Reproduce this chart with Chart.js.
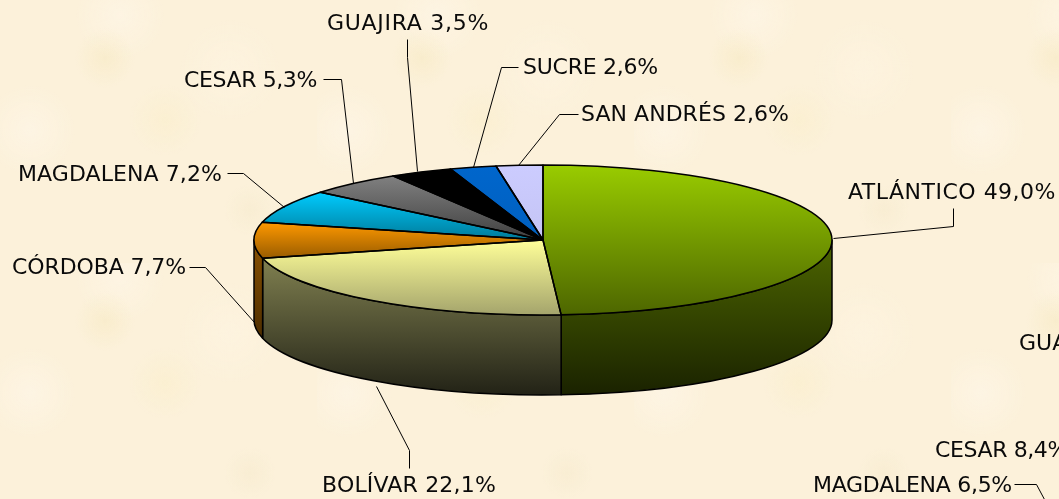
<!DOCTYPE html>
<html><head><meta charset="utf-8">
<script src="https://cdn.jsdelivr.net/npm/chart.js@4"></script>
<style>
html,body{margin:0;padding:0;width:1059px;height:499px;overflow:hidden;background-color:#fcf1da;
background-image:
radial-gradient(circle 30px at 105px 58px,rgba(244,230,185,.4),rgba(244,230,185,0)),
radial-gradient(circle 36px at 165px 120px,rgba(248,236,190,.3),rgba(248,236,190,0)),
radial-gradient(circle 26px at 250px 210px,rgba(240,228,195,.3),rgba(240,228,195,0)),
radial-gradient(circle 45px at 30px 130px,rgba(255,248,238,.45),rgba(255,248,238,0)),
radial-gradient(circle 44px at 120px 15px,rgba(255,247,234,.55),rgba(255,247,234,0)),
radial-gradient(circle 50px at 230px 70px,rgba(255,246,230,.4),rgba(255,246,230,0));
background-size:317px 263px;}
canvas{display:block}
</style></head><body>
<canvas id="c" width="1059" height="499"></canvas>
<script>
const categories=['ATLÁNTICO','BOLÍVAR','CÓRDOBA','MAGDALENA','CESAR','GUAJIRA','SUCRE','SAN ANDRÉS'];
const shares=[49.0,22.1,7.7,7.2,5.3,3.5,2.6,2.6];
const faceTop=['#99cc00','#ffff99','#ff9900','#00ccff','#808080','#000000','#0066cc','#ccccff'];
const faceBottom=['#4d6600','#a4a46c','#995c00','#007a99','#404040','#000000','#0060c0','#c4c4f4'];
const wallTop=['#4d6600','#808050','#8a5200','#006680','#404040','#000000','#003366','#666680'];
const wallBottom=['#1a2200','#222216','#2a1800','#002030','#151515','#000000','#001122','#222230'];
const labelTexts=categories.map((c,i)=>c+' '+shares[i].toFixed(1).replace('.',',')+'%');
const labelAnchors=[[848,192],[322,485],[12,267],[18,174],[184,80],[327,23],[523,67],[581,114]];
const labelWidths=[208,174,174,204,133,162,135,208];
const leaderPaths=[
 [[953,208],[953,226],[833,238]],
 [[409,468],[409,450],[376,386]],
 [[189,267],[205,267],[254,322]],
 [[227,173],[243,173],[284,207]],
 [[323,79],[341,79],[353,183]],
 [[407,39],[407,57],[417,171]],
 [[518,67],[501,67],[473,167]],
 [[578,114],[559,114],[518,165]]];
const clippedTexts=[['GUA',1019,343,0],['CESAR 8,4%',935,450,133],['MAGDALENA 6,5%',813,485,199]];
const clippedLeader=[[1014,484],[1036,484],[1044,499]];
const FONT='22px "DejaVu Sans"';
const RX=289,RY=75,DEPTH=80;

const cum=[];shares.reduce((a,v,i)=>(cum[i]=a,a+v),0);
const total=shares.reduce((a,b)=>a+b,0);
function faceFill(ctx){
  const chart=ctx.chart,ca=chart.chartArea,i=ctx.dataIndex;
  if(!ca)return faceTop[i];
  const R=Math.min(ca.width,ca.height)/2,cy=(ca.top+ca.bottom)/2;
  const s=-Math.PI/2+cum[i]/total*2*Math.PI,e=s+shares[i]/total*2*Math.PI;
  let ys=[0,Math.sin(s),Math.sin(e)];
  for(const a of [Math.PI/2,-Math.PI/2,Math.PI*1.5])if(a>=s&&a<=e)ys.push(Math.sin(a));
  const g=chart.ctx.createLinearGradient(0,cy+R*Math.min(...ys),0,cy+R*Math.max(...ys));
  g.addColorStop(0,faceTop[i]);g.addColorStop(1,faceBottom[i]);
  return g;
}
function tilt(ctx,a){
  ctx.translate(a.x,a.y);ctx.scale(RX/a.outerRadius,RY/a.outerRadius);ctx.translate(-a.x,-a.y);
}
function drawText(ctx,t,x,y,w){
  ctx.letterSpacing='0px';
  if(w){
    const m=ctx.measureText(t).width;
    ctx.letterSpacing=((w-m)/t.length).toFixed(3)+'px';
  }
  ctx.fillText(t,x,y);
}
const tiltPlugin={id:'tilt',
  beforeDatasetsDraw(chart){
    const ctx=chart.ctx,arcs=chart.getDatasetMeta(0).data;
    const a0=arcs[0],cx=a0.x,cy=a0.y;
    ctx.save();
    ctx.lineWidth=1.5;ctx.strokeStyle='#000';ctx.lineJoin='round';
    arcs.forEach((a,i)=>{
      const s=Math.max(a.startAngle,0),e=Math.min(a.endAngle,Math.PI);
      if(e<=s)return;
      const x=t=>cx+RX*Math.cos(t),y=t=>cy+RY*Math.sin(t);
      ctx.beginPath();
      ctx.moveTo(x(s),y(s));
      ctx.ellipse(cx,cy,RX,RY,0,s,e);
      ctx.lineTo(x(e),y(e)+DEPTH);
      ctx.ellipse(cx,cy+DEPTH,RX,RY,0,e,s,true);
      ctx.closePath();
      const g=ctx.createLinearGradient(0,Math.min(y(s),y(e)),0,cy+RY+DEPTH);
      g.addColorStop(0,wallTop[i]);g.addColorStop(1,wallBottom[i]);
      ctx.fillStyle=g;ctx.fill();ctx.stroke();
    });
    ctx.restore();
    ctx.save();
    tilt(ctx,a0);
  },
  afterDatasetsDraw(chart){
    const ctx=chart.ctx,arcs=chart.getDatasetMeta(0).data;
    ctx.restore();
    const a0=arcs[0],cx=a0.x,cy=a0.y;
    ctx.save();
    ctx.strokeStyle='#000';ctx.lineWidth=1.5;ctx.lineJoin='round';
    arcs.forEach(a=>{
      ctx.beginPath();
      ctx.moveTo(cx,cy);
      ctx.ellipse(cx,cy,RX,RY,0,a.startAngle,a.endAngle);
      ctx.closePath();ctx.stroke();
    });
    ctx.lineWidth=1;ctx.strokeStyle='#000';
    for(const path of [...leaderPaths,clippedLeader]){
      ctx.beginPath();
      path.forEach((p,i)=>i?ctx.lineTo(p[0]+.5,p[1]+.5):ctx.moveTo(p[0]+.5,p[1]+.5));
      ctx.stroke();
    }
    ctx.font=FONT;ctx.fillStyle='#0a0a0a';ctx.textBaseline='middle';ctx.textAlign='left';
    labelTexts.forEach((t,i)=>drawText(ctx,t,labelAnchors[i][0],labelAnchors[i][1]+1,labelWidths[i]));
    clippedTexts.forEach(t=>drawText(ctx,t[0],t[1],t[2]+1,t[3]));
    ctx.restore();
  }
};
new Chart(document.getElementById('c'),{
  type:'pie',
  data:{labels:categories,datasets:[{data:shares,backgroundColor:faceFill,borderWidth:0,hoverOffset:0}]},
  options:{responsive:false,animation:false,rotation:0,
    layout:{padding:{left:27,right:0,top:0,bottom:19}},
    plugins:{legend:{display:false},tooltip:{enabled:false}}},
  plugins:[tiltPlugin]
});
</script>
</body></html>
